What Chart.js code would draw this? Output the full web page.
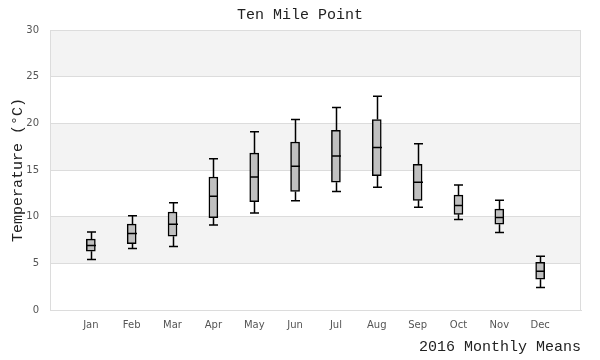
<!DOCTYPE html>
<html>
<head>
<meta charset="utf-8">
<script src="https://cdn.jsdelivr.net/npm/chart.js@4/dist/chart.umd.min.js"></script>
<style>
  html, body { margin: 0; padding: 0; background: #fff; }
  #wrap { width: 600px; height: 360px; }
</style>
</head>
<body>
<div id="wrap"><canvas id="tempChart"></canvas></div>
<script>
// Ten Mile Point - monthly mean temperature box plot, 2016
const months = ['Jan', 'Feb', 'Mar', 'Apr', 'May', 'Jun', 'Jul', 'Aug', 'Sep', 'Oct', 'Nov', 'Dec'];
const mins    = [5.4, 6.6, 6.8,  9.1, 10.4, 11.7, 12.7, 13.15, 11.0,  9.7,  8.3, 2.4];
const q1s     = [6.3, 7.1, 7.9,  9.9, 11.6, 12.7, 13.7, 14.4, 11.75, 10.25, 9.2, 3.3];
const medians = [6.9, 8.2, 9.2, 12.2, 14.25, 15.4, 16.5, 17.4, 13.7, 11.2,  9.9, 4.15];
const q3s     = [7.6, 9.2, 10.5, 14.25, 16.8, 18.0, 19.25, 20.4, 15.6, 12.3, 10.8, 5.1];
const maxs    = [8.36, 10.1, 11.5, 16.2, 19.1, 20.4, 21.7, 22.9, 17.8, 13.4, 11.75, 5.75];
const yTicks  = [0, 5, 10, 15, 20, 25, 30];
const shadedBands = [[5, 10], [15, 20], [25, 30]];

// grey bands behind the plot + frame
const bandsPlugin = {
  id: 'bands',
  afterLayout(chart) {
    // centre the title on the whole canvas, not the padded box
    if (chart.titleBlock) {
      chart.titleBlock.left = 0;
      chart.titleBlock.right = chart.width;
    }
  },
  beforeDraw(chart) {
    const { ctx, chartArea: a, scales: { y } } = chart;
    ctx.save();
    ctx.fillStyle = '#f3f3f3';
    shadedBands.forEach(([lo, hi]) => {
      const top = y.getPixelForValue(hi), bot = y.getPixelForValue(lo);
      ctx.fillRect(a.left, top, a.right - a.left, bot - top);
    });
    ctx.restore();
  },
  afterDraw(chart) {
    const { ctx, chartArea: a } = chart;
    ctx.save();
    ctx.strokeStyle = '#dcdcdc';
    ctx.lineWidth = 1;
    ctx.strokeRect(a.left + 0.5, a.top + 0.5, a.right - a.left - 1, a.bottom - a.top);
    ctx.restore();
  }
};

// whiskers and medians on top of the floating bars
const whiskerPlugin = {
  id: 'whiskers',
  afterDatasetsDraw(chart) {
    const { ctx, scales: { x, y } } = chart;
    const meta = chart.getDatasetMeta(0);
    ctx.save();
    ctx.strokeStyle = '#000';
    ctx.lineWidth = 1.5;
    meta.data.forEach((bar, i) => {
      const cx = Math.round(x.getPixelForValue(i + 1)) + 0.5;
      const half = bar.width / 2;
      const pMin = y.getPixelForValue(mins[i]);
      const pMax = y.getPixelForValue(maxs[i]);
      const pQ1 = y.getPixelForValue(q1s[i]);
      const pQ3 = y.getPixelForValue(q3s[i]);
      const pMed = y.getPixelForValue(medians[i]);
      ctx.beginPath();
      ctx.moveTo(cx, pQ1); ctx.lineTo(cx, pMin);
      ctx.moveTo(cx, pQ3); ctx.lineTo(cx, pMax);
      ctx.moveTo(cx - half, pMin); ctx.lineTo(cx + half, pMin);
      ctx.moveTo(cx - half, pMax); ctx.lineTo(cx + half, pMax);
      ctx.moveTo(cx - half, pMed); ctx.lineTo(cx + half, pMed);
      ctx.stroke();
    });
    ctx.restore();
  }
};

const ctx = document.getElementById('tempChart').getContext('2d');

new Chart(ctx, {
  type: 'bar',
  data: {
    datasets: [{
      label: 'IQR',
      data: months.map((m, i) => ({ x: i + 1, y: [q1s[i], q3s[i]] })),
      backgroundColor: '#c0c0c0',
      borderColor: '#000',
      borderWidth: 1.5,
      borderSkipped: false,
      barThickness: 9
    }]
  },
  options: {
    responsive: true,
    maintainAspectRatio: false,
    animation: false,
    layout: { padding: { left: 9, right: 19, top: 0, bottom: 2 } },
    plugins: {
      legend: { display: false },
      tooltip: { enabled: false },
      title: {
        display: true,
        text: 'Ten Mile Point',
        color: '#222',
        font: { family: 'Liberation Mono', size: 15, weight: 'normal' },
        padding: { top: 6, bottom: 6 }
      }
    },
    scales: {
      x: {
        type: 'linear',
        min: 0,
        max: months.length + 1,
        offset: false,
        afterFit(axis) { axis.height = 48; },
        afterBuildTicks(axis) { axis.ticks = months.map((m, i) => ({ value: i + 1 })); },
        grid: { display: false, drawTicks: false },
        border: { color: '#dcdcdc' },
        ticks: {
          color: '#555',
          font: { family: 'DejaVu Sans', size: 10 },
          padding: 9,
          autoSkip: false,
          maxRotation: 0,
          callback: (v) => months[v - 1]
        },
        title: {
          display: true,
          text: '2016 Monthly Means',
          align: 'end',
          color: '#222',
          font: { family: 'Liberation Mono', size: 15 },
          padding: { top: 2, bottom: 2 }
        }
      },
      y: {
        min: 0,
        max: 30,
        afterFit(axis) { axis.width = 41; },
        afterBuildTicks(axis) { axis.ticks = yTicks.map(v => ({ value: v })); },
        grid: { color: '#dcdcdc', drawTicks: false },
        border: { color: '#dcdcdc' },
        ticks: { color: '#555', font: { family: 'DejaVu Sans', size: 10 }, padding: 11 },
        title: {
          display: true,
          text: 'Temperature (°C)',
          color: '#222',
          font: { family: 'Liberation Mono', size: 15 },
          padding: { top: 0, bottom: 0 }
        }
      }
    }
  },
  plugins: [bandsPlugin, whiskerPlugin]
});
</script>
</body>
</html>
